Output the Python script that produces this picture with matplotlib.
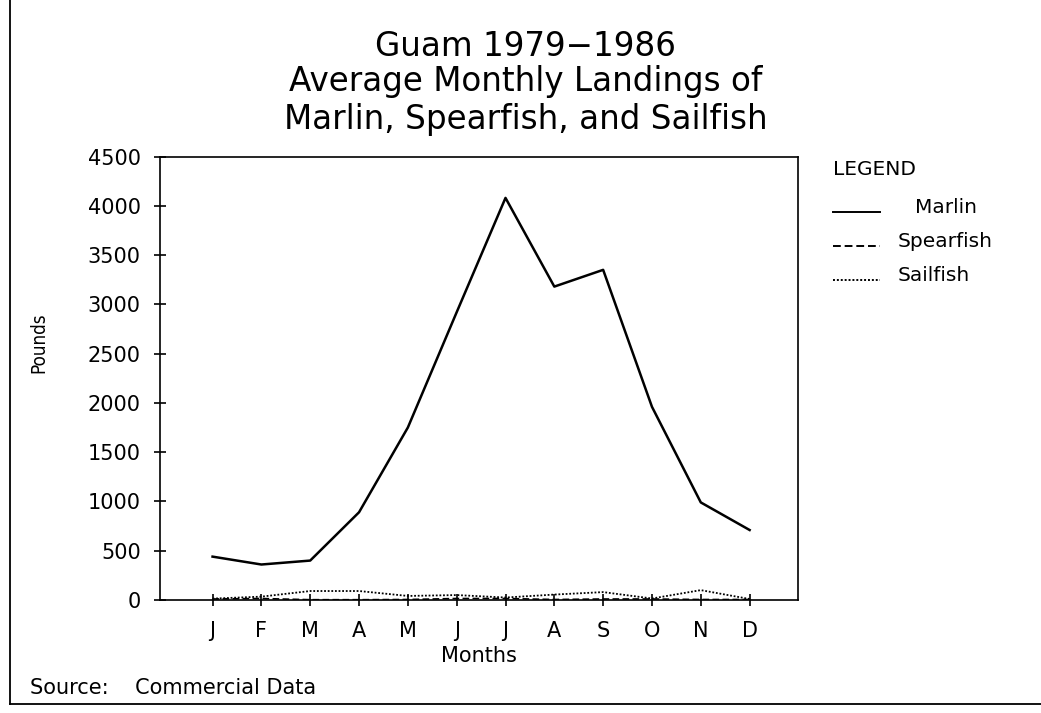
import matplotlib
matplotlib.use("Agg")
import matplotlib.pyplot as plt
from matplotlib.lines import Line2D

# ==============================
# Data
# ==============================
months = ["J", "F", "M", "A", "M", "J", "J", "A", "S", "O", "N", "D"]
marlin = [440, 360, 400, 890, 1750, 2920, 4080, 3180, 3350, 1960, 990, 710]
sailfish = [14, 34, 91, 91, 41, 50, 25, 55, 80, 15, 100, 10]
spearfish = [10, 15, 3, 3, 5, 15, 15, 5, 10, 10, 5, 5]
y_ticks = [0, 500, 1000, 1500, 2000, 2500, 3000, 3500, 4000, 4500]

title_lines = ["Guam 1979\u22121986",
               "Average Monthly Landings of",
               "Marlin, Spearfish, and Sailfish"]

# ==============================
# Figure
# ==============================
fig = plt.figure(figsize=(10.41, 7.13), dpi=100)
ax = fig.add_axes([0.154, 0.1585, 0.613, 0.622])

x = list(range(1, len(months) + 1))
ax.plot(x, marlin, color="black", lw=1.8, ls="-")
ax.plot(x, spearfish, color="black", lw=1.2, ls=(0, (4, 2)))
ax.plot(x, sailfish, color="black", lw=1.3, ls=(0, (1, 1)))

ax.set_xlim(-0.07, 13)
ax.set_ylim(0, 4500)
ax.set_xticks(x)
ax.set_xticklabels(months)
ax.set_yticks(y_ticks)
ax.tick_params(direction="inout", length=8, width=1.2, labelsize=15, pad=10)
ax.tick_params(axis="x", pad=11)
for s in ax.spines.values():
    s.set_linewidth(1.2)

ax.set_xlabel("Months", fontsize=15, labelpad=4)
fig.text(0.037, 0.52, "Pounds", rotation=90, fontsize=13.5,
         fontstretch="condensed", ha="center", va="center")

# title
ys = [0.935, 0.885, 0.833]
for t, yy in zip(title_lines, ys):
    fig.text(0.505, yy, t, fontsize=23.5, ha="center", va="center")

# legend drawn by hand
fig.text(0.800, 0.762, "LEGEND", fontsize=14.5, va="center")
leg = [("Marlin", "-", 0.879), ("Spearfish", (0, (4, 2)), 0.862), ("Sailfish", (0, (1, 1)), 0.862)]
for i, (name, style, tx) in enumerate(leg):
    yy = 0.709 - i * 0.048
    fig.add_artist(Line2D([0.800, 0.845], [yy - 0.006, yy - 0.006], color="black",
                          lw=1.4, ls=style, transform=fig.transFigure))
    fig.text(tx, yy, name, fontsize=14.5, va="center")

fig.text(0.029, 0.035, "Source:    Commercial Data", fontsize=15, va="center")

# page frame (left and bottom)
fig.add_artist(Line2D([0.0095, 0.0095], [0.012, 1.0], color="black", lw=1.3,
                      transform=fig.transFigure))
fig.add_artist(Line2D([0.0095, 1.0], [0.012, 0.012], color="black", lw=1.3,
                      transform=fig.transFigure))

fig.savefig("out.png", dpi=100)
